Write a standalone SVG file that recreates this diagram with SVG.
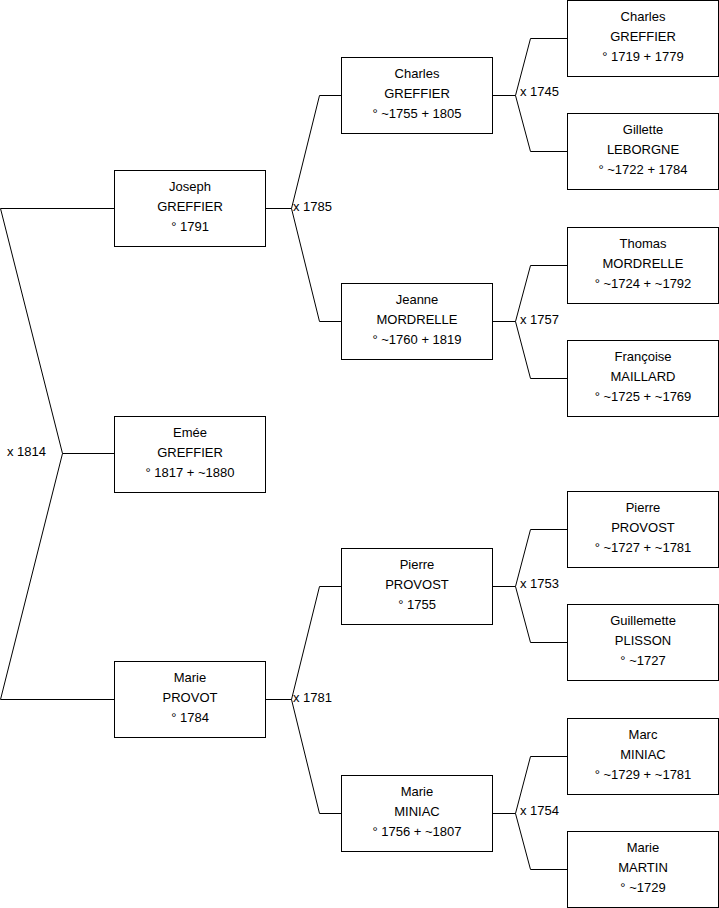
<svg xmlns="http://www.w3.org/2000/svg" width="719" height="908" viewBox="0 0 719 908">
<style>
.box rect{fill:#fff;stroke:#000;stroke-width:1}
text{font-family:"Liberation Sans",Arial,sans-serif;font-size:13px;fill:#000}
.box text{text-anchor:middle}
.conn path{fill:none;stroke:#000;stroke-width:1}
</style>
<rect width="719" height="908" fill="#fff"/>
<g class="conn" id="connectors">
<path d="M0.5,208.5 H114.5 M0.5,208.5 L62.5,453.5 L0.5,699.5 H114.5 M62.5,453.5 H114.5"/>
<path d="M265.5,208.5 H291.5 M341.5,95.5 H319.5 L291.5,208.5 L319.5,321.5 H341.5"/>
<path d="M265.5,699.5 H291.5 M341.5,586.5 H319.5 L291.5,699.5 L319.5,813.5 H341.5"/>
<path d="M492.5,95.5 H515.5 M567.5,38.5 H530.5 L515.5,95.5 L530.5,151.5 H567.5"/>
<path d="M492.5,321.5 H515.5 M567.5,265.5 H530.5 L515.5,321.5 L530.5,378.5 H567.5"/>
<path d="M492.5,586.5 H515.5 M567.5,529.5 H530.5 L515.5,586.5 L530.5,642.5 H567.5"/>
<path d="M492.5,813.5 H515.5 M567.5,756.5 H530.5 L515.5,813.5 L530.5,869.5 H567.5"/>
<text x="7" y="456">x 1814</text>
<text x="293" y="211">x 1785</text>
<text x="293" y="702">x 1781</text>
<text x="520" y="96">x 1745</text>
<text x="520" y="324">x 1757</text>
<text x="520" y="588">x 1753</text>
<text x="520" y="815">x 1754</text>
</g>
<g class="box" id="joseph"><rect x="114.5" y="170.5" width="151" height="76"/><text x="190" y="191">Joseph</text><text x="190" y="211">GREFFIER</text><text x="190" y="231">° 1791</text></g>
<g class="box" id="emee"><rect x="114.5" y="416.5" width="151" height="76"/><text x="190" y="437">Emée</text><text x="190" y="457">GREFFIER</text><text x="190" y="477">° 1817 + ~1880</text></g>
<g class="box" id="marie-provot"><rect x="114.5" y="661.5" width="151" height="76"/><text x="190" y="682">Marie</text><text x="190" y="702">PROVOT</text><text x="190" y="722">° 1784</text></g>
<g class="box" id="charles-1755"><rect x="341.5" y="57.5" width="151" height="76"/><text x="417" y="78">Charles</text><text x="417" y="98">GREFFIER</text><text x="417" y="118">° ~1755 + 1805</text></g>
<g class="box" id="jeanne"><rect x="341.5" y="283.5" width="151" height="76"/><text x="417" y="304">Jeanne</text><text x="417" y="324">MORDRELLE</text><text x="417" y="344">° ~1760 + 1819</text></g>
<g class="box" id="pierre-1755"><rect x="341.5" y="548.5" width="151" height="76"/><text x="417" y="569">Pierre</text><text x="417" y="589">PROVOST</text><text x="417" y="609">° 1755</text></g>
<g class="box" id="marie-miniac"><rect x="341.5" y="775.5" width="151" height="76"/><text x="417" y="796">Marie</text><text x="417" y="816">MINIAC</text><text x="417" y="836">° 1756 + ~1807</text></g>
<g class="box" id="charles-1719"><rect x="567.5" y="0.5" width="151" height="76"/><text x="643" y="21">Charles</text><text x="643" y="41">GREFFIER</text><text x="643" y="61">° 1719 + 1779</text></g>
<g class="box" id="gillette"><rect x="567.5" y="113.5" width="151" height="76"/><text x="643" y="134">Gillette</text><text x="643" y="154">LEBORGNE</text><text x="643" y="174">° ~1722 + 1784</text></g>
<g class="box" id="thomas"><rect x="567.5" y="227.5" width="151" height="76"/><text x="643" y="248">Thomas</text><text x="643" y="268">MORDRELLE</text><text x="643" y="288">° ~1724 + ~1792</text></g>
<g class="box" id="francoise"><rect x="567.5" y="340.5" width="151" height="76"/><text x="643" y="361">Françoise</text><text x="643" y="381">MAILLARD</text><text x="643" y="401">° ~1725 + ~1769</text></g>
<g class="box" id="pierre-1727"><rect x="567.5" y="491.5" width="151" height="76"/><text x="643" y="512">Pierre</text><text x="643" y="532">PROVOST</text><text x="643" y="552">° ~1727 + ~1781</text></g>
<g class="box" id="guillemette"><rect x="567.5" y="604.5" width="151" height="76"/><text x="643" y="625">Guillemette</text><text x="643" y="645">PLISSON</text><text x="643" y="665">° ~1727</text></g>
<g class="box" id="marc"><rect x="567.5" y="718.5" width="151" height="76"/><text x="643" y="739">Marc</text><text x="643" y="759">MINIAC</text><text x="643" y="779">° ~1729 + ~1781</text></g>
<g class="box" id="marie-martin"><rect x="567.5" y="831.5" width="151" height="76"/><text x="643" y="852">Marie</text><text x="643" y="872">MARTIN</text><text x="643" y="892">° ~1729</text></g>
</svg>
